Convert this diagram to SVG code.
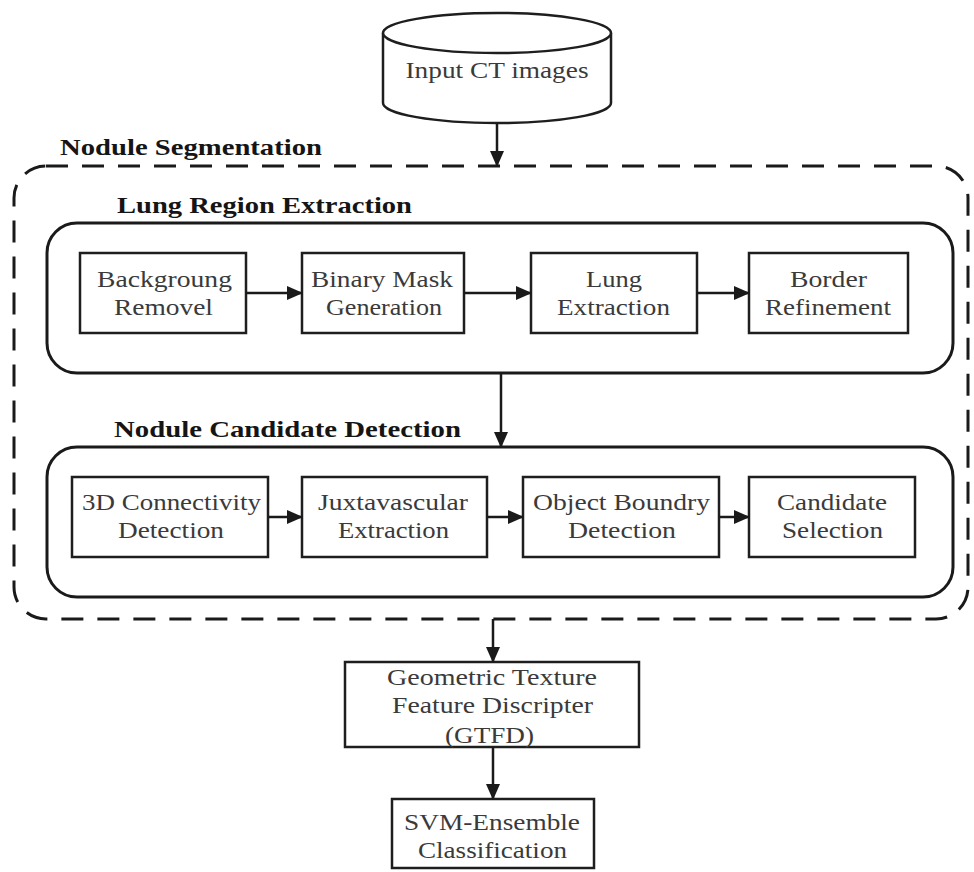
<svg xmlns="http://www.w3.org/2000/svg" width="974" height="872" viewBox="0 0 974 872">
<style>
.bg{fill:#fff}
.box{fill:#fff;stroke:#1e1e1e;stroke-width:2.5}
.grp{fill:none;stroke:#1a1a1a;stroke-width:3}
.dash{fill:none;stroke:#1a1a1a;stroke-width:3;stroke-dasharray:22 14}
.con{fill:none;stroke:#1a1a1a;stroke-width:2.5}
.t{font-family:"Liberation Serif","Times New Roman",serif;font-size:24px;fill:#3a3a3a;text-anchor:middle}
.h{font-family:"Liberation Serif","Times New Roman",serif;font-size:23px;font-weight:bold;fill:#151515}
</style>
<defs>
<marker id="ah" markerUnits="userSpaceOnUse" markerWidth="16" markerHeight="14" refX="15" refY="7" orient="auto">
<path d="M0,0 L16,7 L0,14 Z" fill="#1a1a1a"/>
</marker>
</defs>
<rect class="bg" x="0" y="0" width="974" height="872"/>

<g id="nodule-segmentation">
<rect class="dash" x="14" y="166" width="954" height="453" rx="32"/>
<text class="h" x="60" y="155" textLength="262" lengthAdjust="spacingAndGlyphs">Nodule Segmentation</text>
</g>

<g id="input-ct">
<path class="box" d="M383,33 L383,103 A114,20 0 0 0 611,103 L611,33"/>
<ellipse class="box" cx="497" cy="33" rx="114" ry="20"/>
<text class="t" x="497" y="78" font-size="25" textLength="183" lengthAdjust="spacingAndGlyphs">Input CT images</text>
</g>

<g id="lung-region-extraction">
<rect class="grp" x="47" y="223" width="906" height="150" rx="30"/>
<text class="h" x="117" y="213" textLength="295" lengthAdjust="spacingAndGlyphs">Lung Region Extraction</text>
</g>

<g id="background-removel">
<rect class="box" x="80" y="253" width="166" height="80"/>
<text class="t" x="164.5" y="287" textLength="135" lengthAdjust="spacingAndGlyphs">Backgroung</text>
<text class="t" x="163.5" y="315" textLength="99" lengthAdjust="spacingAndGlyphs">Removel</text>
</g>
<g id="binary-mask">
<rect class="box" x="302" y="253" width="162" height="80"/>
<text class="t" x="382" y="287" textLength="142" lengthAdjust="spacingAndGlyphs">Binary Mask</text>
<text class="t" x="384" y="315" textLength="116" lengthAdjust="spacingAndGlyphs">Generation</text>
</g>
<g id="lung-extraction">
<rect class="box" x="531" y="253" width="166" height="80"/>
<text class="t" x="614" y="287" textLength="56" lengthAdjust="spacingAndGlyphs">Lung</text>
<text class="t" x="613.5" y="315" textLength="113" lengthAdjust="spacingAndGlyphs">Extraction</text>
</g>
<g id="border-refinement">
<rect class="box" x="749" y="253" width="159" height="80"/>
<text class="t" x="828.5" y="287" textLength="77" lengthAdjust="spacingAndGlyphs">Border</text>
<text class="t" x="828" y="315" textLength="126" lengthAdjust="spacingAndGlyphs">Refinement</text>
</g>

<g id="nodule-candidate-detection">
<rect class="grp" x="47" y="447" width="906" height="150" rx="30"/>
<text class="h" x="114" y="437" textLength="347" lengthAdjust="spacingAndGlyphs">Nodule Candidate Detection</text>
</g>

<g id="connectivity">
<rect class="box" x="72" y="477" width="196" height="80"/>
<text class="t" x="171.5" y="510" textLength="179" lengthAdjust="spacingAndGlyphs">3D Connectivity</text>
<text class="t" x="171" y="538" textLength="106" lengthAdjust="spacingAndGlyphs">Detection</text>
</g>
<g id="juxtavascular">
<rect class="box" x="302" y="477" width="185" height="80"/>
<text class="t" x="393" y="510" textLength="150" lengthAdjust="spacingAndGlyphs">Juxtavascular</text>
<text class="t" x="393.5" y="538" textLength="111" lengthAdjust="spacingAndGlyphs">Extraction</text>
</g>
<g id="object-boundry">
<rect class="box" x="523" y="477" width="196" height="80"/>
<text class="t" x="621.5" y="510" textLength="177" lengthAdjust="spacingAndGlyphs">Object Boundry</text>
<text class="t" x="622" y="538" textLength="108" lengthAdjust="spacingAndGlyphs">Detection</text>
</g>
<g id="candidate-selection">
<rect class="box" x="749" y="477" width="166" height="80"/>
<text class="t" x="832" y="510" textLength="110" lengthAdjust="spacingAndGlyphs">Candidate</text>
<text class="t" x="832.5" y="538" textLength="101" lengthAdjust="spacingAndGlyphs">Selection</text>
</g>

<g id="gtfd">
<rect class="box" x="345" y="662" width="294" height="85"/>
<text class="t" x="492" y="685" textLength="210" lengthAdjust="spacingAndGlyphs">Geometric Texture</text>
<text class="t" x="492.5" y="713" textLength="201" lengthAdjust="spacingAndGlyphs">Feature Discripter</text>
<text class="t" x="489.5" y="743" textLength="89" lengthAdjust="spacingAndGlyphs">(GTFD)</text>
</g>

<g id="svm-ensemble">
<rect class="box" x="392" y="799" width="202" height="69"/>
<text class="t" x="492" y="830" textLength="176" lengthAdjust="spacingAndGlyphs">SVM-Ensemble</text>
<text class="t" x="492.5" y="858" textLength="149" lengthAdjust="spacingAndGlyphs">Classification</text>
</g>

<g id="connectors">
<line class="con" x1="497" y1="123" x2="497" y2="166" marker-end="url(#ah)"/>
<line class="con" x1="246" y1="293" x2="302" y2="293" marker-end="url(#ah)"/>
<line class="con" x1="464" y1="293" x2="531" y2="293" marker-end="url(#ah)"/>
<line class="con" x1="697" y1="293" x2="749" y2="293" marker-end="url(#ah)"/>
<line class="con" x1="501" y1="373" x2="501" y2="447" marker-end="url(#ah)"/>
<line class="con" x1="268" y1="517" x2="302" y2="517" marker-end="url(#ah)"/>
<line class="con" x1="487" y1="517" x2="523" y2="517" marker-end="url(#ah)"/>
<line class="con" x1="719" y1="517" x2="749" y2="517" marker-end="url(#ah)"/>
<line class="con" x1="493" y1="619" x2="493" y2="662" marker-end="url(#ah)"/>
<line class="con" x1="493" y1="747" x2="493" y2="799" marker-end="url(#ah)"/>
</g>
</svg>
